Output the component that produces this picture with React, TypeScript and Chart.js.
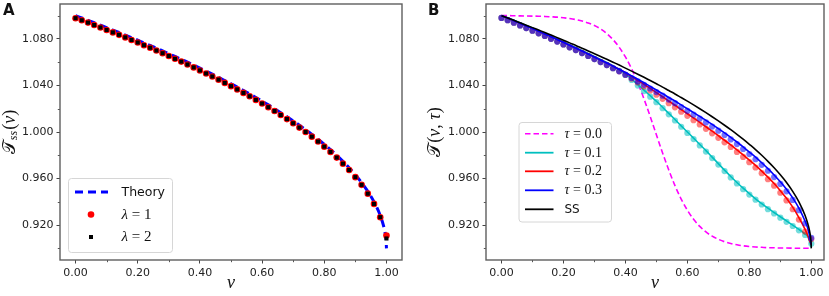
import React, { useEffect, useRef } from "react";
import { Chart, registerables } from "chart.js";

Chart.register(...registerables);

const SANS = "'DejaVu Sans', 'Noto Sans', sans-serif";
const SERIF = "'Liberation Serif', 'DejaVu Serif', serif";
const MATH = "'DejaVu Serif', 'DejaVu Sans', serif";

// ---------------- data ----------------
const vDots = [
  0.0, 0.02, 0.04, 0.06, 0.08, 0.1, 0.12, 0.14, 0.16, 0.18,
  0.2, 0.22, 0.24, 0.26, 0.28, 0.3, 0.32, 0.34, 0.36, 0.38,
  0.4, 0.42, 0.44, 0.46, 0.48, 0.5, 0.52, 0.54, 0.56, 0.58,
  0.6, 0.62, 0.64, 0.66, 0.68, 0.7, 0.72, 0.74, 0.76, 0.78,
  0.8, 0.82, 0.84, 0.86, 0.88, 0.9, 0.92, 0.94, 0.96, 0.98, 1.0,
];

const theoryV = [
  0.0, 0.02, 0.04, 0.06, 0.08, 0.1, 0.12, 0.14, 0.16, 0.18,
  0.2, 0.22, 0.24, 0.26, 0.28, 0.3, 0.32, 0.34, 0.36, 0.38,
  0.4, 0.42, 0.44, 0.46, 0.48, 0.5, 0.52, 0.54, 0.56, 0.58,
  0.6, 0.62, 0.64, 0.66, 0.68, 0.7, 0.72, 0.74, 0.76, 0.78,
  0.8, 0.82, 0.84, 0.86, 0.88, 0.9, 0.92, 0.94, 0.96, 0.98,
  0.99, 0.995, 0.999, 1.0,
];
const theoryT = [
  1.1, 1.098, 1.096, 1.0939, 1.0918, 1.0897, 1.0876, 1.0855, 1.0833, 1.0811,
  1.0789, 1.0766, 1.0744, 1.072, 1.0697, 1.0673, 1.0649, 1.0625, 1.06, 1.0575,
  1.0549, 1.0523, 1.0497, 1.047, 1.0442, 1.0414, 1.0386, 1.0356, 1.0327, 1.0296,
  1.0265, 1.0233, 1.02, 1.0166, 1.0131, 1.0095, 1.0058, 1.002, 0.998, 0.9938,
  0.9894, 0.9849, 0.98, 0.9748, 0.9693, 0.9632, 0.9566, 0.949, 0.94, 0.9283,
  0.92, 0.9141, 0.9063, 0.9,
];
const lambda1 = [
  1.0978, 1.096, 1.094, 1.0919, 1.0898, 1.0877, 1.0856, 1.0835, 1.0813, 1.0791,
  1.0769, 1.0746, 1.0724, 1.07, 1.0677, 1.0653, 1.0629, 1.0605, 1.058, 1.0555,
  1.0529, 1.0503, 1.0477, 1.045, 1.0422, 1.0394, 1.0366, 1.0336, 1.0307, 1.0276,
  1.0245, 1.0213, 1.018, 1.0146, 1.0111, 1.0075, 1.0038, 1.0, 0.996, 0.9918,
  0.9874, 0.9829, 0.978, 0.9728, 0.9673, 0.9612, 0.9546, 0.947, 0.9382, 0.9268, 0.911,
];
const lambda2 = [
  1.0978, 1.096, 1.094, 1.0919, 1.0898, 1.0877, 1.0856, 1.0835, 1.0813, 1.0791,
  1.0769, 1.0746, 1.0724, 1.07, 1.0677, 1.0653, 1.0629, 1.0605, 1.058, 1.0555,
  1.0529, 1.0503, 1.0477, 1.045, 1.0422, 1.0394, 1.0366, 1.0336, 1.0307, 1.0276,
  1.0245, 1.0213, 1.018, 1.0146, 1.0111, 1.0075, 1.0038, 1.0, 0.996, 0.9918,
  0.9874, 0.9829, 0.978, 0.9728, 0.9673, 0.9612, 0.9546, 0.947, 0.9382, 0.9268, 0.9085,
];

// panel B
const vLine = [
  0.0, 0.02, 0.04, 0.06, 0.08, 0.1, 0.12, 0.14, 0.16, 0.18,
  0.2, 0.22, 0.24, 0.26, 0.28, 0.3, 0.32, 0.34, 0.36, 0.38,
  0.4, 0.42, 0.44, 0.46, 0.48, 0.5, 0.52, 0.54, 0.56, 0.58,
  0.6, 0.62, 0.64, 0.66, 0.68, 0.7, 0.72, 0.74, 0.76, 0.78,
  0.8, 0.82, 0.84, 0.86, 0.88, 0.9, 0.92, 0.94, 0.96, 0.98, 0.99, 1.0,
];
const tau0 = [
  1.1, 1.1, 1.0999, 1.0998, 1.0997, 1.0996, 1.0995, 1.0993, 1.099, 1.0987,
  1.0982, 1.0975, 1.0966, 1.0954, 1.0937, 1.0915, 1.0885, 1.0845, 1.0794, 1.0728,
  1.0645, 1.0543, 1.0422, 1.0284, 1.0133, 0.9976, 0.982, 0.9673, 0.9539, 0.9424,
  0.9328, 0.925, 0.9189, 0.9141, 0.9105, 0.9078, 0.9057, 0.9042, 0.9031, 0.9022,
  0.9016, 0.9012, 0.9009, 0.9006, 0.9005, 0.9003, 0.9003, 0.9002, 0.9001, 0.9001, 0.9,
];
const tau1 = [
  1.1, 1.0982, 1.0961, 1.0938, 1.0915, 1.0893, 1.087, 1.0847, 1.0823, 1.0799,
  1.0775, 1.075, 1.0726, 1.07, 1.0675, 1.0649, 1.0623, 1.0597, 1.057, 1.0535,
  1.0499, 1.0455, 1.0407, 1.036, 1.0312, 1.0264, 1.0213, 1.016, 1.0107, 1.0053,
  1.0, 0.9947, 0.9893, 0.984, 0.9784, 0.9728, 0.9672, 0.9618, 0.9566, 0.9517,
  0.947, 0.9426, 0.9385, 0.9345, 0.9308, 0.9272, 0.9236, 0.92, 0.9163, 0.9123,
  0.9095, 0.901,
];
const tau2 = [
  1.1, 1.0979, 1.0957, 1.0934, 1.0911, 1.0889, 1.0866, 1.0843, 1.0819, 1.0795,
  1.0771, 1.0746, 1.0722, 1.0696, 1.0671, 1.0645, 1.0619, 1.0593, 1.0566, 1.0539,
  1.0509, 1.0477, 1.0444, 1.041, 1.0375, 1.0339, 1.0303, 1.0266, 1.023, 1.0193,
  1.0157, 1.012, 1.0083, 1.0045, 1.0007, 0.9968, 0.9929, 0.9889, 0.9847, 0.9804,
  0.9759, 0.9713, 0.9664, 0.9612, 0.9557, 0.9496, 0.943, 0.9354, 0.9265, 0.9163,
  0.91, 0.903,
];
const tau3 = [
  1.1, 1.0979, 1.0957, 1.0934, 1.0911, 1.0889, 1.0866, 1.0843, 1.0819, 1.0795,
  1.0771, 1.0746, 1.0722, 1.0696, 1.0671, 1.0645, 1.0619, 1.0593, 1.0566, 1.0539,
  1.0511, 1.0482, 1.0453, 1.0423, 1.0392, 1.0361, 1.033, 1.0297, 1.0266, 1.0233,
  1.02, 1.0167, 1.0134, 1.01, 1.0065, 1.0029, 0.9992, 0.9954, 0.9914, 0.9872,
  0.9828, 0.9784, 0.9736, 0.9685, 0.9631, 0.9572, 0.9508, 0.9434, 0.9346, 0.9233,
  0.916, 0.903,
];
const tau1Dots = [
  1.098, 1.0961, 1.0939, 1.0916, 1.0893, 1.0871, 1.0848, 1.0825, 1.0801, 1.0777,
  1.0753, 1.0728, 1.0704, 1.0678, 1.0653, 1.0627, 1.0601, 1.0575, 1.0548, 1.0525,
  1.049, 1.0447, 1.0399, 1.0352, 1.0304, 1.0256, 1.0205, 1.0152, 1.0099, 1.0045,
  0.9992, 0.9939, 0.9885, 0.9832, 0.9776, 0.972, 0.9664, 0.961, 0.9558, 0.9509,
  0.9462, 0.9418, 0.9377, 0.9337, 0.93, 0.9264, 0.9228, 0.9192, 0.9155, 0.9115, 0.904,
];
const tau2Dots = [
  1.098, 1.0961, 1.0939, 1.0916, 1.0893, 1.0871, 1.0848, 1.0825, 1.0801, 1.0777,
  1.0753, 1.0728, 1.0704, 1.0678, 1.0653, 1.0627, 1.0601, 1.0575, 1.0548, 1.0521,
  1.0491, 1.0459, 1.0426, 1.0392, 1.0357, 1.0321, 1.0285, 1.0248, 1.0212, 1.0175,
  1.0139, 1.0102, 1.0065, 1.0027, 0.9989, 0.995, 0.9911, 0.9871, 0.9829, 0.9786,
  0.9741, 0.9695, 0.9646, 0.9594, 0.9539, 0.9478, 0.9412, 0.9336, 0.9247, 0.9145, 0.908,
];
const tau3Dots = [
  1.098, 1.0961, 1.0939, 1.0916, 1.0893, 1.0871, 1.0848, 1.0825, 1.0801, 1.0777,
  1.0753, 1.0728, 1.0704, 1.0678, 1.0653, 1.0627, 1.0601, 1.0575, 1.0548, 1.0521,
  1.0493, 1.0464, 1.0435, 1.0405, 1.0374, 1.0343, 1.0312, 1.0279, 1.0248, 1.0215,
  1.0182, 1.0149, 1.0116, 1.0082, 1.0047, 1.0011, 0.9974, 0.9936, 0.9896, 0.9854,
  0.981, 0.9766, 0.9718, 0.9667, 0.9613, 0.9554, 0.949, 0.9416, 0.9328, 0.9215, 0.909,
];

const xTicks = [0.0, 0.2, 0.4, 0.6, 0.8, 1.0];
const xMinor = [0.1, 0.3, 0.5, 0.7, 0.9];
const yTicks = [0.92, 0.96, 1.0, 1.04, 1.08];
const yMinor = [0.9, 0.94, 0.98, 1.02, 1.06, 1.1];

// ---------------- helpers ----------------
const pts = (xs: number[], ys: number[]) => xs.map((x, i) => ({ x, y: ys[i] }));

type Part = { t: string; font: string; dy?: number; gap?: number };

function partsWidth(ctx: CanvasRenderingContext2D, parts: Part[]) {
  let w = 0;
  for (const p of parts) {
    ctx.font = p.font;
    w += ctx.measureText(p.t).width + (p.gap || 0);
  }
  return w;
}
function drawParts(ctx: CanvasRenderingContext2D, parts: Part[], x: number, y: number) {
  let cx = x;
  for (const p of parts) {
    ctx.font = p.font;
    ctx.fillText(p.t, cx, y + (p.dy || 0));
    cx += ctx.measureText(p.t).width + (p.gap || 0);
  }
}

type Entry = {
  kind: "line" | "dash" | "circle" | "square";
  color: string;
  width?: number;
  dash?: number[];
  x0: number;
  x1: number;
  y: number;
  textX: number;
  parts: Part[];
};
type Deco = {
  letter: string;
  letterX: number;
  yTitle: Part[];
  yTitleX: number;
  legendBox: [number, number, number, number];
  entries: Entry[];
};

function makeDeco(d: Deco) {
  return {
    id: "deco" + d.letter,
    afterDraw(chart: any) {
      const ctx: CanvasRenderingContext2D = chart.ctx;
      const a = chart.chartArea;
      const xs = chart.scales.x;
      const ys = chart.scales.y;
      ctx.save();
      // minor ticks
      ctx.strokeStyle = "#444";
      ctx.lineWidth = 0.9;
      ctx.beginPath();
      for (const v of xMinor) {
        const px = Math.round(xs.getPixelForValue(v)) + 0.5;
        ctx.moveTo(px, a.bottom);
        ctx.lineTo(px, a.bottom + 2.2);
      }
      for (const v of yMinor) {
        const py = Math.round(ys.getPixelForValue(v)) + 0.5;
        ctx.moveTo(a.left, py);
        ctx.lineTo(a.left - 2.2, py);
      }
      ctx.stroke();
      // frame
      ctx.strokeStyle = "#5e5e5e";
      ctx.lineWidth = 1.4;
      ctx.strokeRect(a.left, a.top, a.right - a.left, a.bottom - a.top);

      // panel letter
      ctx.fillStyle = "#111";
      ctx.textBaseline = "alphabetic";
      ctx.font = `bold 15px ${SANS}`;
      ctx.fillText(d.letter, d.letterX, 14.5);

      // y title (rotated)
      ctx.save();
      const cy = (a.top + a.bottom) / 2;
      ctx.translate(d.yTitleX, cy);
      ctx.rotate(-Math.PI / 2);
      ctx.textBaseline = "middle";
      const w = partsWidth(ctx, d.yTitle);
      drawParts(ctx, d.yTitle, -w / 2, 0);
      ctx.restore();

      // legend
      const [bx, by, bw, bh] = d.legendBox;
      const r = 3;
      ctx.beginPath();
      ctx.moveTo(bx + r, by);
      ctx.lineTo(bx + bw - r, by);
      ctx.quadraticCurveTo(bx + bw, by, bx + bw, by + r);
      ctx.lineTo(bx + bw, by + bh - r);
      ctx.quadraticCurveTo(bx + bw, by + bh, bx + bw - r, by + bh);
      ctx.lineTo(bx + r, by + bh);
      ctx.quadraticCurveTo(bx, by + bh, bx, by + bh - r);
      ctx.lineTo(bx, by + r);
      ctx.quadraticCurveTo(bx, by, bx + r, by);
      ctx.closePath();
      ctx.fillStyle = "rgba(255,255,255,0.85)";
      ctx.fill();
      ctx.strokeStyle = "#d6d6d6";
      ctx.lineWidth = 1;
      ctx.stroke();

      for (const e of d.entries) {
        ctx.save();
        if (e.kind === "line" || e.kind === "dash") {
          ctx.strokeStyle = e.color;
          ctx.lineWidth = e.width || 1.8;
          ctx.setLineDash(e.kind === "dash" ? e.dash || [5, 3] : []);
          ctx.beginPath();
          ctx.moveTo(e.x0, e.y);
          ctx.lineTo(e.x1, e.y);
          ctx.stroke();
        } else if (e.kind === "circle") {
          ctx.fillStyle = e.color;
          ctx.beginPath();
          ctx.arc((e.x0 + e.x1) / 2, e.y, 3.3, 0, Math.PI * 2);
          ctx.fill();
        } else {
          ctx.fillStyle = e.color;
          ctx.fillRect((e.x0 + e.x1) / 2 - 2, e.y - 2, 4, 4);
        }
        ctx.restore();
        ctx.fillStyle = "#111";
        ctx.textBaseline = "middle";
        drawParts(ctx, e.parts, e.textX, e.y + 0.5);
      }
      ctx.restore();
    },
  };
}

function baseOptions(xMax: number, yAxisWidth: number, padRight: number) {
  return {
    animation: false as const,
    responsive: false,
    devicePixelRatio: 1,
    layout: { padding: { left: 0, right: padRight, top: 2, bottom: 0 } },
    plugins: { legend: { display: false }, tooltip: { enabled: false } },
    elements: { line: { cubicInterpolationMode: "monotone" as const } },
    scales: {
      x: {
        type: "linear" as const,
        min: -0.05,
        max: xMax,
        afterBuildTicks: (s: any) => {
          s.ticks = xTicks.map((v) => ({ value: v }));
        },
        afterFit: (s: any) => {
          s.height = 36;
          s.paddingLeft = 0;
          s.paddingRight = 0;
        },
        ticks: {
          callback: (v: any) => Number(v).toFixed(2),
          font: { family: SANS, size: 11 },
          color: "#222",
          padding: 3,
          maxRotation: 0,
          autoSkip: false,
        },
        grid: { display: true, drawOnChartArea: false, drawTicks: true, tickLength: 3.5, tickColor: "#444", tickWidth: 1 },
        border: { display: false },
        title: {
          display: true,
          text: "v",
          font: { family: SERIF, style: "italic" as const, size: 18 },
          color: "#111",
          padding: { top: 0, bottom: 2 },
        },
      },
      y: {
        type: "linear" as const,
        min: 0.89,
        max: 1.11,
        afterBuildTicks: (s: any) => {
          s.ticks = yTicks.map((v) => ({ value: v }));
        },
        afterFit: (s: any) => {
          s.width = yAxisWidth;
          s.paddingTop = 0;
          s.paddingBottom = 0;
        },
        ticks: {
          callback: (v: any) => Number(v).toFixed(3),
          font: { family: SANS, size: 11 },
          color: "#222",
          padding: 3,
          autoSkip: false,
        },
        grid: { display: true, drawOnChartArea: false, drawTicks: true, tickLength: 3.5, tickColor: "#444", tickWidth: 1 },
        border: { display: false },
      },
    },
  };
}

function buildA() {
  const deco = makeDeco({
    letter: "A",
    letterX: 3,
    yTitleX: 10,
    yTitle: [
      { t: "𝒯", font: `18px ${MATH}` },
      { t: "ss", font: `italic 12px ${SERIF}`, dy: 4, gap: 1 },
      { t: "(", font: `18px ${SERIF}` },
      { t: "v", font: `italic 18px ${SERIF}` },
      { t: ")", font: `18px ${SERIF}` },
    ],
    legendBox: [68.5, 178.5, 104, 74],
    entries: [
      { kind: "dash", color: "#0000ff", width: 3, dash: [8, 5], x0: 75, x1: 108, y: 192, textX: 121.5, parts: [{ t: "Theory", font: `12.5px ${SANS}` }] },
      { kind: "circle", color: "#ff0000", x0: 86, x1: 96, y: 214.5, textX: 121.5, parts: [{ t: "λ", font: `italic 15px ${SERIF}` }, { t: " = 1", font: `15px ${SERIF}` }] },
      { kind: "square", color: "#000000", x0: 86, x1: 96, y: 237, textX: 121.5, parts: [{ t: "λ", font: `italic 15px ${SERIF}` }, { t: " = 2", font: `15px ${SERIF}` }] },
    ],
  });
  return {
    type: "scatter" as const,
    data: {
      datasets: [
        { label: "λ = 2", data: pts(vDots, lambda2), pointStyle: "rect", pointRadius: 2.9, backgroundColor: "#000", borderWidth: 0, showLine: false, order: 0 },
        { label: "λ = 1", data: pts(vDots, lambda1), pointStyle: "circle", pointRadius: 3.3, backgroundColor: "#ff0000", borderWidth: 0, showLine: false, order: 1 },
        { label: "Theory", data: pts(theoryV, theoryT), showLine: true, pointRadius: 0, borderColor: "#0000ff", borderWidth: 3, borderDash: [8, 5], order: 2 },
      ],
    },
    options: baseOptions(1.05, 60, 8),
    plugins: [deco],
  };
}

function buildB() {
  const deco = makeDeco({
    letter: "B",
    letterX: 13,
    yTitleX: 20,
    yTitle: [
      { t: "𝒯", font: `18px ${MATH}` },
      { t: "(", font: `18px ${SERIF}` },
      { t: "v", font: `italic 18px ${SERIF}` },
      { t: ", ", font: `18px ${SERIF}` },
      { t: "τ", font: `italic 18px ${SERIF}` },
      { t: ")", font: `18px ${SERIF}` },
    ],
    legendBox: [104, 122.5, 92.5, 99.5],
    entries: [
      { kind: "dash", color: "#ff00ff", width: 1.6, dash: [5.5, 3], x0: 110, x1: 138.5, y: 133.7, textX: 149.5, parts: [{ t: "τ", font: `italic 14px ${SERIF}` }, { t: " = 0.0", font: `14px ${SERIF}` }] },
      { kind: "line", color: "#00bfbf", width: 1.8, x0: 110, x1: 138.5, y: 152.7, textX: 149.5, parts: [{ t: "τ", font: `italic 14px ${SERIF}` }, { t: " = 0.1", font: `14px ${SERIF}` }] },
      { kind: "line", color: "#ff0000", width: 1.8, x0: 110, x1: 138.5, y: 171.3, textX: 149.5, parts: [{ t: "τ", font: `italic 14px ${SERIF}` }, { t: " = 0.2", font: `14px ${SERIF}` }] },
      { kind: "line", color: "#0000ff", width: 1.8, x0: 110, x1: 138.5, y: 190.3, textX: 149.5, parts: [{ t: "τ", font: `italic 14px ${SERIF}` }, { t: " = 0.3", font: `14px ${SERIF}` }] },
      { kind: "line", color: "#000000", width: 1.8, x0: 110, x1: 138.5, y: 209.3, textX: 149.5, parts: [{ t: "SS", font: `12px ${SANS}` }] },
    ],
  });
  const line = (label: string, ys: number[], color: string, order: number, xs = vLine) => ({
    label,
    data: pts(xs, ys),
    showLine: true,
    pointRadius: 0,
    borderColor: color,
    borderWidth: 1.6,
    order,
  });
  const dots = (label: string, ys: number[], color: string, order: number) => ({
    label,
    data: pts(vDots, ys),
    showLine: false,
    pointStyle: "circle",
    pointRadius: 3.1,
    backgroundColor: color,
    borderWidth: 0,
    order,
  });
  return {
    type: "scatter" as const,
    data: {
      datasets: [
        { ...line("τ = 0.0", tau0, "#ff00ff", 10, vDots), borderDash: [5.5, 3] },
        line("τ = 0.1", tau1, "#00bfbf", 9),
        dots("τ = 0.1 sim", tau1Dots, "rgba(0,191,191,0.55)", 8),
        line("τ = 0.2", tau2, "#ff0000", 7),
        dots("τ = 0.2 sim", tau2Dots, "rgba(255,0,0,0.5)", 6),
        line("τ = 0.3", tau3, "#0000ff", 5),
        dots("τ = 0.3 sim", tau3Dots, "rgba(0,0,255,0.55)", 4),
        line("SS", theoryT, "#000000", 3, theoryV),
      ],
    },
    options: baseOptions(1.041, 71, 5),
    plugins: [deco],
  };
}

function Panel({ left, width, build }: { left: number; width: number; build: () => any }) {
  const ref = useRef<HTMLCanvasElement>(null);
  useEffect(() => {
    const chart = new Chart(ref.current as HTMLCanvasElement, build());
    return () => chart.destroy();
  }, []);
  return (
    <canvas
      ref={ref}
      width={width}
      height={296}
      style={{ position: "absolute", left, top: 0, width, height: 296 }}
    />
  );
}

export default function App() {
  return (
    <div style={{ position: "fixed", left: 0, top: 0, width: 829, height: 296, background: "#fff" }}>
      <Panel left={0} width={410} build={buildA} />
      <Panel left={415} width={414} build={buildB} />
    </div>
  );
}
